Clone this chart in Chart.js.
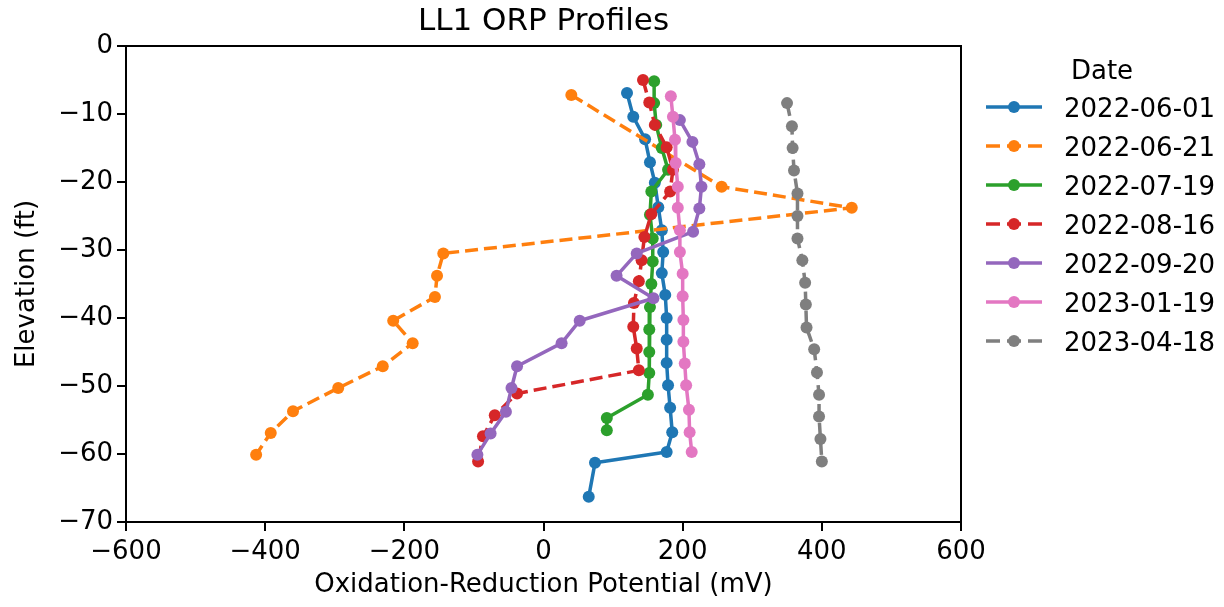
<!DOCTYPE html>
<html lang="en">
<head>
<meta charset="utf-8">
<title>LL1 ORP Profiles</title>
<style>
  html, body { margin: 0; padding: 0; background: #fff; }
</style>
</head>
<body>
<canvas id="orpChart" width="1224" height="607"></canvas>
<script src="https://cdn.jsdelivr.net/npm/chart.js@4/dist/chart.umd.min.js"></script>
<script>
// sampling dates (legend)
var dates = ['2022-06-01', '2022-06-21', '2022-07-19', '2022-08-16', '2022-09-20', '2023-01-19', '2023-04-18'];
var colors = ['#1f77b4', '#ff7f0e', '#2ca02c', '#d62728', '#9467bd', '#e377c2', '#7f7f7f'];
var dashed = [false, true, false, true, false, false, true];

// elevation (ft) / ORP (mV) for each date
var elev0601 = [-6.9, -10.4, -13.7, -17.1, -20.1, -23.7, -27.1, -30.3, -33.4, -36.6, -40.0, -43.2, -46.6, -49.9, -53.2, -56.8, -59.7, -61.3, -66.3];
var orp0601  = [120, 129, 146, 153, 160, 165, 170, 172, 170, 175, 177, 177, 177, 179, 182, 185, 177, 74, 65];

var elev0621 = [-7.2, -20.7, -23.8, -30.5, -33.8, -36.9, -40.4, -43.7, -47.1, -50.3, -53.7, -56.9, -60.1];
var orp0621  = [40, 256, 443, -144, -153, -156, -216, -188, -231, -295, -360, -392, -413];

var elev0719 = [-5.2, -8.4, -11.6, -15.0, -18.2, -21.4, -24.8, -28.3, -31.7, -35.0, -38.4, -41.7, -45.0, -48.1, -51.3, -54.7, -56.5];
var orp0719  = [159, 159, 162, 170, 179, 155, 153, 157, 157, 155, 153, 152, 152, 152, 150, 91, 91];

var elev0816 = [-5.0, -8.3, -11.6, -14.9, -18.2, -21.4, -24.7, -28.1, -31.5, -34.6, -37.8, -41.3, -44.5, -47.7, -51.1, -54.3, -57.4, -61.1];
var orp0816  = [143, 152, 160, 177, 186, 182, 155, 145, 141, 137, 130, 129, 134, 137, -38, -70, -87, -94];

var elev0920 = [-10.9, -14.1, -17.4, -20.7, -23.9, -27.3, -30.5, -33.8, -37.1, -40.4, -43.7, -47.1, -50.3, -53.8, -57.0, -60.1];
var orp0920  = [196, 214, 224, 227, 224, 215, 134, 105, 158, 52, 26, -38, -46, -54, -76, -95];

var elev0119 = [-7.4, -10.4, -13.8, -17.2, -20.7, -23.8, -27.1, -30.3, -33.5, -36.8, -40.3, -43.5, -46.7, -49.9, -53.5, -56.8, -59.7];
var orp0119  = [183, 186, 189, 190, 193, 193, 196, 196, 200, 200, 201, 201, 203, 205, 209, 210, 213];

var elev0418 = [-8.4, -11.8, -15.0, -18.3, -21.7, -25.0, -28.3, -31.5, -34.8, -38.0, -41.4, -44.6, -48.0, -51.3, -54.5, -57.8, -61.1];
var orp0418  = [350, 357, 358, 360, 365, 365, 365, 372, 376, 377, 378, 389, 393, 396, 396, 398, 400];

var elevs = [elev0601, elev0621, elev0719, elev0816, elev0920, elev0119, elev0418];
var orps  = [orp0601, orp0621, orp0719, orp0816, orp0920, orp0119, orp0418];

var FONT = 'DejaVu Sans';
var DASH = [13, 6];

function minus(v) {
  return v < 0 ? '\u2212' + Math.abs(v) : '' + v;
}

var datasets = dates.map(function (d, i) {
  return {
    label: d,
    data: orps[i].map(function (v, k) { return { x: v, y: elevs[i][k] }; }),
    showLine: true,
    borderColor: colors[i],
    backgroundColor: colors[i],
    borderWidth: 3.5,
    borderDash: dashed[i] ? DASH : [],
    borderJoinStyle: 'round',
    borderCapStyle: dashed[i] ? 'butt' : 'round',
    pointRadius: 6,
    pointHoverRadius: 6,
    pointBorderWidth: 0,
    pointBackgroundColor: colors[i],
    tension: 0,
    order: dates.length - i
  };
});

// title, frame and legend drawn by hand (matplotlib look)
var extras = {
  id: 'extras',
  afterDraw: function (chart) {
    var c = chart.ctx, a = chart.chartArea;
    c.save();
    c.strokeStyle = '#000';
    c.lineWidth = 2;
    c.strokeRect(a.left, a.top, a.right - a.left, a.bottom - a.top);

    c.fillStyle = '#000';
    c.font = '31px "' + FONT + '"';
    c.textAlign = 'center';
    c.textBaseline = 'alphabetic';
    c.fillText('LL1 ORP Profiles', (a.left + a.right) / 2, 30);

    c.font = '26px "' + FONT + '"';
    c.fillText('Date', 1102, 78.5);

    c.textAlign = 'left';
    for (var i = 0; i < dates.length; i++) {
      var y = 107 + 39 * i;
      c.strokeStyle = colors[i];
      c.lineWidth = 3.5;
      c.setLineDash(dashed[i] ? [14, 7] : []);
      c.beginPath();
      c.moveTo(986, y);
      c.lineTo(1042, y);
      c.stroke();
      c.setLineDash([]);
      c.fillStyle = colors[i];
      c.beginPath();
      c.arc(1014, y, 6, 0, Math.PI * 2);
      c.fill();
      c.fillStyle = '#000';
      c.fillText(dates[i], 1064, y + 9.5);
    }
    c.restore();
  }
};

var ctx = document.getElementById('orpChart');
var orpChart = new Chart(ctx, {
  type: 'scatter',
  data: { datasets: datasets },
  options: {
    responsive: false,
    devicePixelRatio: 1,
    animation: false,
    layout: { padding: { top: 46, right: 263, left: 0, bottom: 0 } },
    plugins: {
      legend: { display: false },
      title: { display: false },
      tooltip: { enabled: false }
    },
    scales: {
      x: {
        type: 'linear',
        min: -600,
        max: 600,
        ticks: {
          stepSize: 200,
          color: '#000',
          font: { family: FONT, size: 26 },
          padding: 6,
          maxRotation: 0,
          callback: function (v) { return minus(v); }
        },
        grid: { drawOnChartArea: false, drawTicks: true, tickLength: 9, color: '#000', lineWidth: 2 },
        border: { color: '#000', width: 2 },
        title: {
          display: true,
          text: 'Oxidation-Reduction Potential (mV)',
          color: '#000',
          font: { family: FONT, size: 26 },
          padding: { top: 0, bottom: 6 }
        },
        afterFit: function (s) { s.height = 85; }
      },
      y: {
        type: 'linear',
        min: -70,
        max: 0,
        ticks: {
          stepSize: 10,
          color: '#000',
          font: { family: FONT, size: 26 },
          padding: 4,
          callback: function (v) { return minus(v); }
        },
        grid: { drawOnChartArea: false, drawTicks: true, tickLength: 9, color: '#000', lineWidth: 2 },
        border: { color: '#000', width: 2 },
        title: {
          display: true,
          text: 'Elevation (ft)',
          color: '#000',
          font: { family: FONT, size: 26 },
          padding: { top: 12, bottom: 0 }
        },
        afterFit: function (s) { s.width = 126; }
      }
    }
  },
  plugins: [extras]
});
</script>
</body>
</html>
